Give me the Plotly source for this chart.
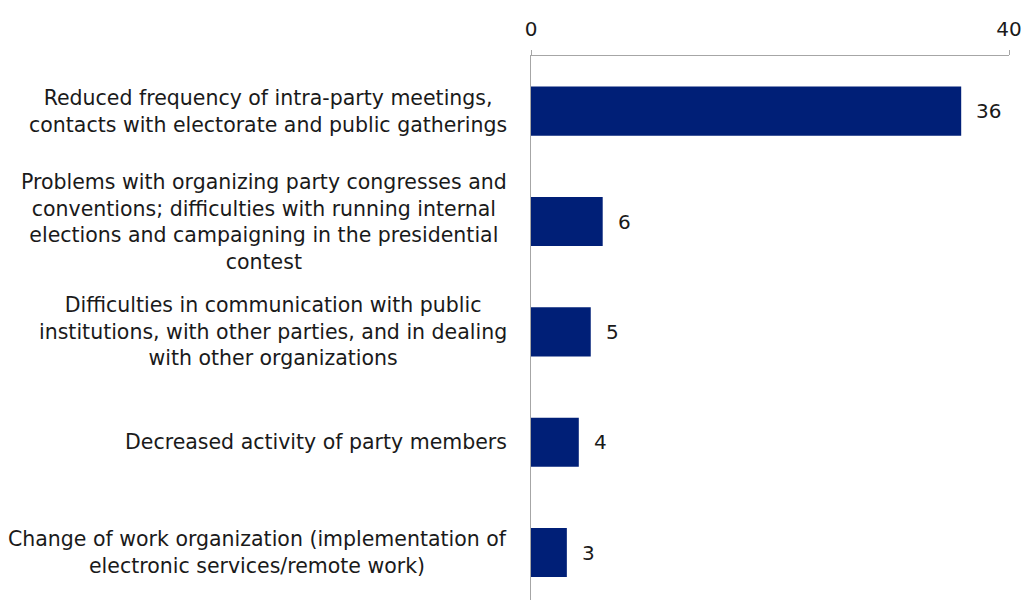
import plotly.graph_objects as go

categories = [
    "Reduced frequency of intra-party meetings,<br>contacts with electorate and public gatherings",
    "Problems with organizing party congresses and<br>conventions; difficulties with running internal<br>elections and campaigning in the presidential<br>contest",
    "Difficulties in communication with public<br>institutions, with other parties, and in dealing<br>with other organizations",
    "Decreased activity of party members",
    "Change of work organization (implementation of<br>electronic services/remote work)",
]
values = [36, 6, 5, 4, 3]
x_ticks = [0, 40]

BAR = "#001f77"
AXIS = "#a6a6a6"
FONT = "DejaVu Sans"
TEXT = "#1a1a1a"
FS = 20.5

idx = list(range(len(categories)))

fig = go.Figure(
    go.Bar(
        x=values,
        y=idx,
        orientation="h",
        marker=dict(color=BAR, line=dict(width=0)),
        width=0.445,
        hoverinfo="x",
    )
)

# category labels: centred lines, block anchored to the left of the axis
for i, lab in zip(idx, categories):
    fig.add_annotation(
        x=0, xref="paper", y=i, yref="y",
        text=lab, showarrow=False,
        xanchor="right", yanchor="middle", align="center",
        xshift=-22,
        font=dict(family=FONT, size=FS, color=TEXT),
    )

# value labels just past each bar end
for i, v in zip(idx, values):
    fig.add_annotation(
        x=v, y=i, text=str(v), showarrow=False,
        xanchor="left", yanchor="middle", xshift=13,
        font=dict(family=FONT, size=20, color=TEXT),
    )

fig.update_layout(
    width=1027, height=600,
    margin=dict(l=531, r=18, t=56, b=0),
    paper_bgcolor="white", plot_bgcolor="white",
    showlegend=False,
    bargap=0.55,
    font=dict(family=FONT, size=FS, color=TEXT),
)
fig.update_xaxes(
    side="top", range=[0, 40], tickvals=x_ticks,
    showgrid=False, zeroline=False,
    showline=True, linecolor=AXIS, linewidth=1,
    ticks="outside", ticklen=5, tickcolor=AXIS,
    tickfont=dict(family=FONT, size=20, color=TEXT),
    ticklabelstandoff=6,
)
fig.update_yaxes(
    range=[4.43, -0.5], showticklabels=False,
    showgrid=False, zeroline=False,
    showline=True, linecolor=AXIS, linewidth=1, ticks="",
)

fig.write_html("out.html")
